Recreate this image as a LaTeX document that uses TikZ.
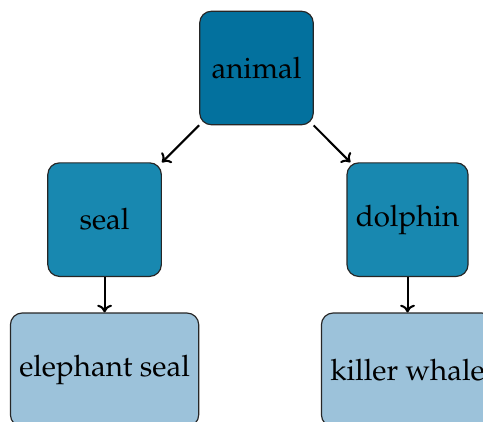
\documentclass[tikz,border=0pt]{standalone}
\usepackage[T1]{fontenc}
\usepackage{mathpazo}
\usepackage{tikz}
\usetikzlibrary{arrows.meta,positioning}
\definecolor{deepcerulean}{RGB}{3,113,158}
\definecolor{cerulean}{RGB}{24,136,176}
\definecolor{pastelsky}{RGB}{156,194,218}
\tikzset{
  raiz/.style={
    rounded corners=4pt,
    draw=black!85,
    fill=deepcerulean,
    align=center,
    minimum width=38.5pt,
    minimum height=38.5pt,
    inner sep=3pt
  },
  rama/.style={
    raiz,
    fill=cerulean
  },
  hoja/.style={
    raiz,
    fill=pastelsky
  },
  arrow/.style={
    -{To[width=5pt,length=2.6pt]},
    line width=0.7pt
  }
}

\begin{document}
\begin{tikzpicture}[node distance=12.5pt]
\useasboundingbox (-86.95pt,23.05pt) rectangle (76.78pt,-119.67pt);
\node[raiz] (animal) {animal};
\node[rama,below=of animal,xshift=-51.5pt] (seal) {seal};
\node[rama,below=of animal,xshift=51.2pt] (dolphin) {dolphin};
\node[hoja,below=12pt of seal] (eseal) {elephant seal};
\node[hoja,below=12pt of dolphin] (orca) {killer whale};
\draw[arrow] (animal) -- (seal);
\draw[arrow] (animal) -- (dolphin);
\draw[arrow] (seal) -- (eseal);
\draw[arrow] (dolphin) -- (orca);
\end{tikzpicture}
\end{document}
